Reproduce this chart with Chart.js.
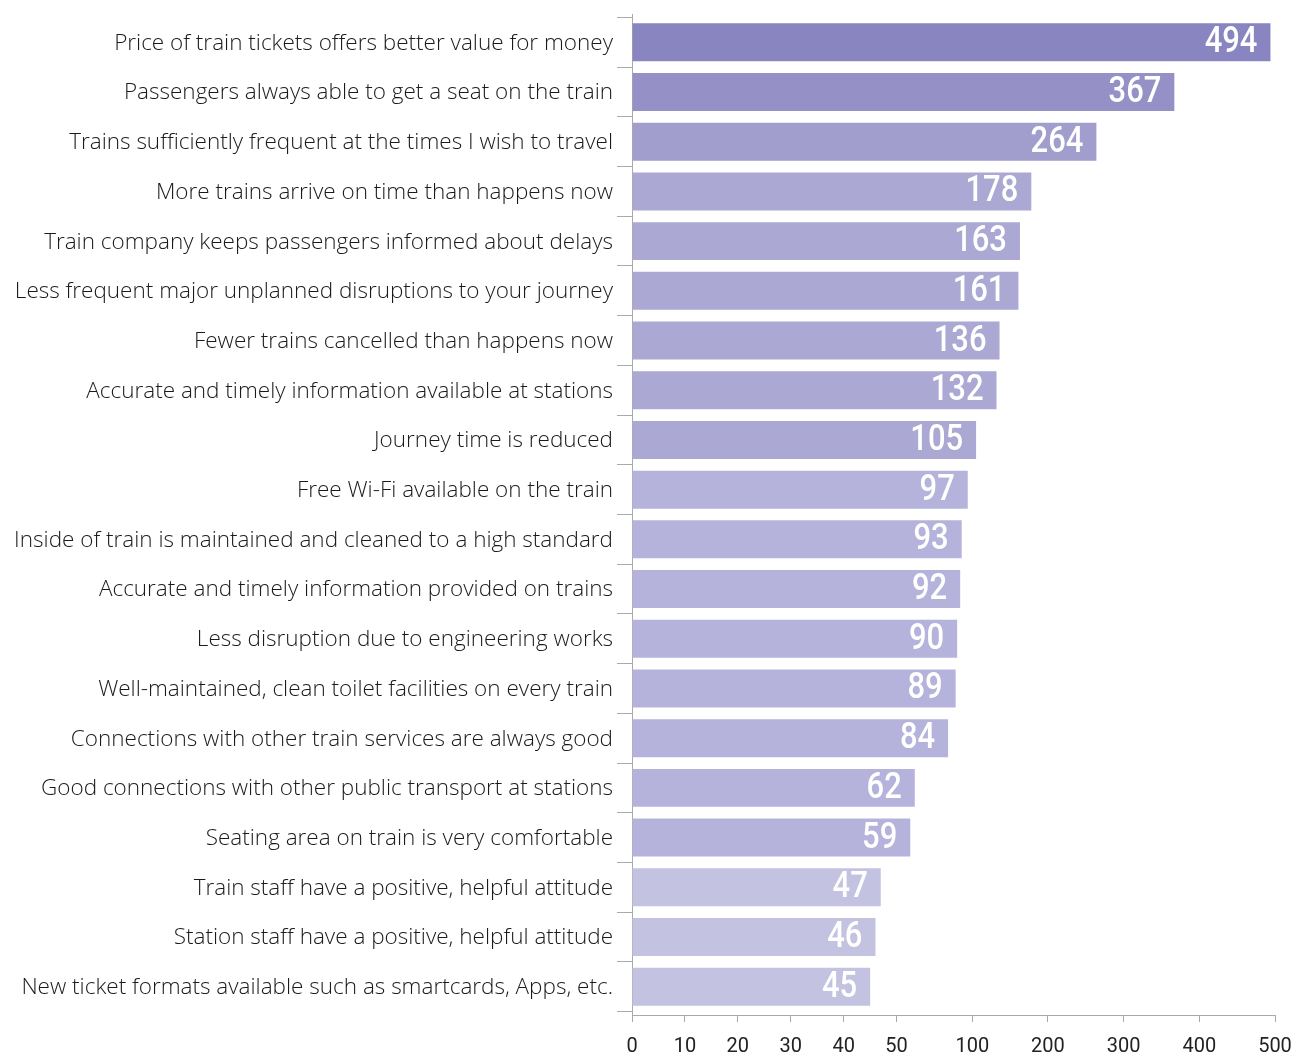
<!DOCTYPE html>
<html>
<head>
<meta charset="utf-8">
<script src="https://cdn.jsdelivr.net/npm/chart.js@4/dist/chart.umd.min.js"></script>
<style>
  html, body { margin: 0; padding: 0; background: #ffffff; }
  #wrap { width: 1303px; height: 1054px; position: relative; }
</style>
</head>
<body>
<div id="wrap"><canvas id="c" width="1303" height="1054"></canvas></div>
<script>
// ---- data ----
const categories = [
  "Price of train tickets offers better value for money",
  "Passengers always able to get a seat on the train",
  "Trains sufficiently frequent at the times I wish to travel",
  "More trains arrive on time than happens now",
  "Train company keeps passengers informed about delays",
  "Less frequent major unplanned disruptions to your journey",
  "Fewer trains cancelled than happens now",
  "Accurate and timely information available at stations",
  "Journey time is reduced",
  "Free Wi-Fi available on the train",
  "Inside of train is maintained and cleaned to a high standard",
  "Accurate and timely information provided on trains",
  "Less disruption due to engineering works",
  "Well-maintained, clean toilet facilities on every train",
  "Connections with other train services are always good",
  "Good connections with other public transport at stations",
  "Seating area on train is very comfortable",
  "Train staff have a positive, helpful attitude",
  "Station staff have a positive, helpful attitude",
  "New ticket formats available such as smartcards, Apps, etc."
];
const values = [494, 367, 264, 178, 163, 161, 136, 132, 105, 97, 93, 92, 90, 89, 84, 62, 59, 47, 46, 45];
const xTickValues = [0, 10, 20, 30, 40, 50, 100, 200, 300, 400, 500];
const xTickLabels = ["0", "10", "20", "30", "40", "50", "100", "200", "300", "400", "500"];

// ---- styles ----
const barColors = [
  "#8985c0", "#9591c6", "#a19dcd",
  "#aba8d4", "#aba8d4", "#aba8d4", "#aba8d4", "#aba8d4", "#aba8d4",
  "#b5b3db", "#b5b3db", "#b5b3db", "#b5b3db", "#b5b3db", "#b5b3db", "#b5b3db", "#b5b3db",
  "#c3c2e1", "#c3c2e1", "#c3c2e1"
];
// relative visual width of each interval between consecutive axis breaks
const xSlotWeights = [1, 1, 1, 1, 1, 1.43, 1.43, 1.43, 1.43, 1.43];

// ---- piecewise-linear value scale ----
class PiecewiseScale extends Chart.LinearScale {
  static id = 'piecewise';
  static defaults = {};
  _total() { return this.options.weights.reduce((a, c) => a + c, 0); }
  _toUnits(v) {
    const b = this.options.breaks, w = this.options.weights;
    let u = 0;
    for (let i = 0; i < b.length - 1; i++) {
      if (v >= b[i + 1]) { u += w[i]; continue; }
      if (v > b[i]) u += w[i] * (v - b[i]) / (b[i + 1] - b[i]);
      break;
    }
    return u;
  }
  _fromUnits(u) {
    const b = this.options.breaks, w = this.options.weights;
    let acc = 0;
    for (let i = 0; i < w.length; i++) {
      if (u <= acc + w[i]) return b[i] + (u - acc) / w[i] * (b[i + 1] - b[i]);
      acc += w[i];
    }
    return b[b.length - 1];
  }
  buildTicks() { return this.options.breaks.map(v => ({ value: v })); }
  getPixelForValue(v) { return this.getPixelForDecimal(this._toUnits(v) / this._total()); }
  getValueForPixel(p) { return this._fromUnits(this.getDecimalForPixel(p) * this._total()); }
}
// category scale with a little extra room at both ends
class PaddedCategoryScale extends Chart.CategoryScale {
  static id = 'paddedCategory';
  static defaults = {};
  buildTicks() {
    const t = super.buildTicks();
    const pad = this.options.edgePad || 0;
    this._startValue -= pad;
    this._valueRange += 2 * pad;
    return t;
  }
}
Chart.register(PiecewiseScale, PaddedCategoryScale);

const valueLabels = {
  id: 'valueLabels',
  afterDatasetsDraw(chart) {
    const ctx = chart.ctx;
    const meta = chart.getDatasetMeta(0);
    const sx = 0.86;
    ctx.save();
    ctx.font = '500 36px Roboto';
    ctx.fillStyle = '#ffffff';
    ctx.textAlign = 'right';
    ctx.textBaseline = 'middle';
    meta.data.forEach((bar, i) => {
      ctx.save();
      ctx.translate(bar.x - 13, bar.y + 1);
      ctx.scale(sx, 1);
      ctx.fillText(String(values[i]), 0, 0);
      ctx.restore();
    });
    ctx.restore();
  }
};

new Chart(document.getElementById('c'), {
  type: 'bar',
  data: {
    labels: categories,
    datasets: [{
      data: values,
      backgroundColor: barColors,
      borderWidth: 0,
      barPercentage: 0.764,
      categoryPercentage: 1.0
    }]
  },
  plugins: [valueLabels],
  options: {
    indexAxis: 'y',
    responsive: false,
    animation: false,
    devicePixelRatio: 1,
    layout: { padding: { top: 14, right: 28, left: 0, bottom: 0 } },
    plugins: { legend: { display: false }, tooltip: { enabled: false } },
    scales: {
      x: {
        type: 'piecewise',
        min: 0,
        max: 500,
        breaks: xTickValues,
        weights: xSlotWeights,
        afterFit(s) { s.height = 39; s.paddingLeft = 0; s.paddingRight = 0; },
        border: { display: true, color: '#aaaaaa', width: 1 },
        grid: { drawOnChartArea: false, drawTicks: true, tickLength: 7, color: '#aaaaaa', offset: false },
        ticks: {
          autoSkip: false,
          maxRotation: 0,
          padding: 13,
          color: '#222222',
          font: { family: 'Roboto', size: 20 },
          callback: (v, i) => xTickLabels[i]
        }
      },
      y: {
        type: 'paddedCategory',
        edgePad: 0.07,
        offset: true,
        afterFit(s) { s.width = 632; s.paddingTop = 0; s.paddingBottom = 0; },
        border: { display: true, color: '#aaaaaa', width: 1 },
        grid: { drawOnChartArea: false, drawTicks: true, tickLength: 15, color: '#aaaaaa', offset: true },
        ticks: {
          autoSkip: false,
          padding: 4,
          labelOffset: 1,
          color: '#1a1a1a',
          font: { family: '"Open Sans"', size: 22.5, weight: '300' }
        }
      }
    }
  }
});
</script>
</body>
</html>
